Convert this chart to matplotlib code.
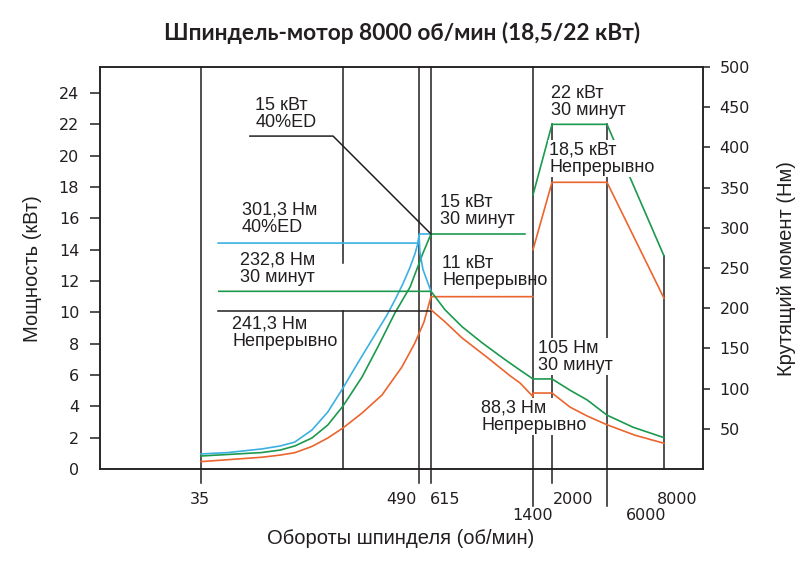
import numpy as np
import matplotlib.pyplot as plt
from matplotlib.transforms import blended_transform_factory

# schematic (non-linear) speed axis: rpm -> fraction of axis width
RPM_KNOTS = [0, 35, 250, 490, 615, 1400, 2000, 6000, 8000, 9370]
POS_KNOTS = [0, 0.1675, 0.4030, 0.5290, 0.5489, 0.7181, 0.7496, 0.8408, 0.9353, 1.0]

# power curves, kW (left axis)
RPM_P40 = [35, 76, 127, 155, 177, 203, 227, 250, 278, 310, 335, 360, 389, 414, 439,
           462, 477, 487, 495, 615]
KW_P40 = [0.96, 1.05, 1.28, 1.47, 1.72, 2.49, 3.64, 5.17, 6.13, 7.21, 8.04, 8.87, 9.83,
          10.79, 11.81, 12.89, 13.72, 14.43, 15.0, 15.0]

RPM_P30 = [35, 127, 155, 177, 203, 227, 250, 310, 360, 414, 462, 532, 615, 1338]
KW_P30 = [0.83, 1.05, 1.21, 1.47, 1.98, 2.81, 4.02, 5.87, 7.79, 9.96, 11.62, 13.79,
          15.0, 15.0]

RPM_PS1 = [35, 127, 155, 177, 203, 227, 250, 310, 373, 436, 477, 542, 615, 1400]
KW_PS1 = [0.47, 0.75, 0.89, 1.04, 1.44, 1.98, 2.62, 3.57, 4.72, 6.51, 8.04, 9.38,
          11.0, 11.0]

RPM_HS = [1400, 2000, 6000, 8000]
KW_HS30 = [17.5, 22.0, 22.0, 13.6]
KW_HSS1 = [14.0, 18.3, 18.3, 10.9]

# torque curves, Nm (right axis)
RPM_T40 = [61, 487, 490, 500, 532, 584, 615]
NM_T40 = [281, 281, 291, 269, 248, 231, 221]

RPM_T30 = [62, 615, 723, 854, 1008, 1185, 1300, 1400, 2000, 3309, 4546, 6000, 6912, 8000]
NM_T30 = [221, 221, 198, 177, 157, 136, 123, 112, 112, 98, 86, 67, 52, 39]

RPM_TS1_FLAT = [61, 615]
NM_TS1_FLAT = [196.5, 196.5]

RPM_TS1 = [615, 723, 854, 1054, 1223, 1300, 1400, 1400, 2000, 3309, 4546, 6000, 6983, 8000]
NM_TS1 = [198, 183, 163, 138, 116, 107, 90, 94.5, 94.5, 77, 66, 55, 42, 32]

# leader line for "15 кВт 40%ED"
LEADER_RPM = [109, 235, 615]
LEADER_KW = [21.25, 21.25, 15.0]

XTICK_RPM = [35, 490, 615, 1400, 2000, 6000, 8000]
XTICK_LABELS = ['35', '490', '615', '1400', '2000', '6000', '8000']

BLUE = '#3cb0e2'
GREEN = '#1b9a4e'
ORANGE = '#ec652e'
INK = '#231f20'

KW_TOP = 25.66
NM_TOP = 500


def fwd(x):
    return np.interp(x, RPM_KNOTS, POS_KNOTS)


def inv(p):
    return np.interp(p, POS_KNOTS, RPM_KNOTS)


fig = plt.figure(figsize=(8.08, 5.65), dpi=100)
ax = fig.add_axes([100 / 808, 96 / 565, 603 / 808, 402 / 565])
ax.set_xscale('function', functions=(fwd, inv))
ax.set_xlim(0, 9370)
ax.set_ylim(0, KW_TOP)
ax2 = ax.twinx()
ax2.set_ylim(0, NM_TOP)

for a in (ax, ax2):
    for s in a.spines.values():
        s.set_linewidth(1.1)
        s.set_color(INK)

# vertical reference lines (kW coordinates, some run below the axis)
vsegs = [
    (35, [(-0.9, KW_TOP)]),
    (250, [(13.15, KW_TOP), (0, 10.08)]),
    (490, [(-0.9, KW_TOP)]),
    (615, [(-0.9, KW_TOP)]),
    (1400, [(-2.36, KW_TOP)]),
    (2000, [(-0.9, 22.0)]),
    (6000, [(-2.36, 22.0)]),
    (8000, [(0, 13.6)]),
]
for x, segs in vsegs:
    for y0, y1 in segs:
        ax.plot([x, x], [y0, y1], color=INK, lw=1.1, clip_on=False, zorder=2)

lw = 1.2
ax.plot(RPM_P40, KW_P40, color=BLUE, lw=lw, zorder=3)
ax.plot(RPM_P30, KW_P30, color=GREEN, lw=lw, zorder=3)
ax.plot(RPM_PS1, KW_PS1, color=ORANGE, lw=lw, zorder=3)
ax.plot(RPM_HS, KW_HS30, color=GREEN, lw=lw, zorder=3)
ax.plot(RPM_HS, KW_HSS1, color=ORANGE, lw=lw, zorder=3)
ax.plot(LEADER_RPM, LEADER_KW, color=INK, lw=1.1, zorder=3)

ax2.plot(RPM_T40, NM_T40, color=BLUE, lw=lw)
ax2.plot(RPM_T30, NM_T30, color=GREEN, lw=lw)
ax2.plot(RPM_TS1_FLAT, NM_TS1_FLAT, color=INK, lw=1.1)
ax2.plot(RPM_TS1, NM_TS1, color=ORANGE, lw=lw)

# annotations: (text, rpm, kW top, white box)
notes = [
    ('15 кВт\n40%ED', 117, 23.75, False),
    ('301,3 Нм\n40%ED', 97, 17.05, False),
    ('232,8 Нм\n30 минут', 94, 13.86, False),
    ('241,3 Нм\nНепрерывно', 82, 9.78, False),
    ('15 кВт\n30 минут', 684, 17.56, False),
    ('11 кВт\nНепрерывно', 700, 13.67, False),
    ('22 кВт\n30 минут', 1968, 24.52, False),
    ('18,5 кВт\nНепрерывно', 1905, 20.88, True),
    ('105 Нм\n30 минут', 1558, 8.24, True),
    ('88,3 Нм\nНепрерывно', 1000, 4.41, True),
]
for txt, x, y, boxed in notes:
    kw = dict(fontsize=13, family='Liberation Sans', color=INK, ha='left',
              va='top', linespacing=1.0, zorder=6)
    if boxed:
        kw['bbox'] = dict(facecolor='white', edgecolor='none', pad=1)
    ax.text(x, y, txt, **kw)

# y ticks
ax.set_yticks(range(0, 25, 2))
ax.tick_params(axis='y', direction='out', length=7, width=1.1, color=INK,
               labelsize=11.5, pad=8, labelcolor=INK)
ax.yaxis.get_major_ticks()[0].tick1line.set_visible(False)
ax.set_xticks([])
ax2.set_yticks(range(50, 501, 50))
ax2.tick_params(axis='y', direction='out', length=5, width=1.1, color=INK,
                labelsize=11.5, pad=7, labelcolor=INK)

# x tick labels, staggered like the original
xoffs = [(-1, -31, 'center'), (-2, -31, 'right'), (-1, -31, 'left'),
         (0, -46, 'center'), (1, -31, 'left'), (39, -46, 'center'),
         (13, -31, 'center')]
tr = blended_transform_factory(ax.transData, ax.transAxes)
for x, lab, (dx, dy, ha) in zip(XTICK_RPM, XTICK_LABELS, xoffs):
    ax.annotate(lab, xy=(x, 0), xycoords=tr, xytext=(dx, dy),
                textcoords='offset pixels', ha=ha, va='center',
                fontsize=11.5, color=INK)

fig.text(402 / 808, 1 - 33 / 565, 'Шпиндель-мотор 8000 об/мин (18,5/22 кВт)',
         ha='center', va='center', fontsize=16.3, fontweight='bold',
         family=['Lato', 'DejaVu Sans'], color=INK)
fig.text(33 / 808, 1 - 269 / 565, 'Мощность (кВт)', rotation=90,
         ha='center', va='center', fontsize=14.5, family='Liberation Sans', color=INK)
fig.text(787 / 808, 1 - 269 / 565, 'Крутящий момент (Нм)', rotation=90,
         ha='center', va='center', fontsize=14.5, family='Liberation Sans', color=INK)
fig.text(401 / 808, 1 - 538 / 565, 'Обороты шпинделя (об/мин)',
         ha='center', va='center', fontsize=14.5, family='Liberation Sans', color=INK)

fig.savefig('out.png', dpi=100, facecolor='white')
